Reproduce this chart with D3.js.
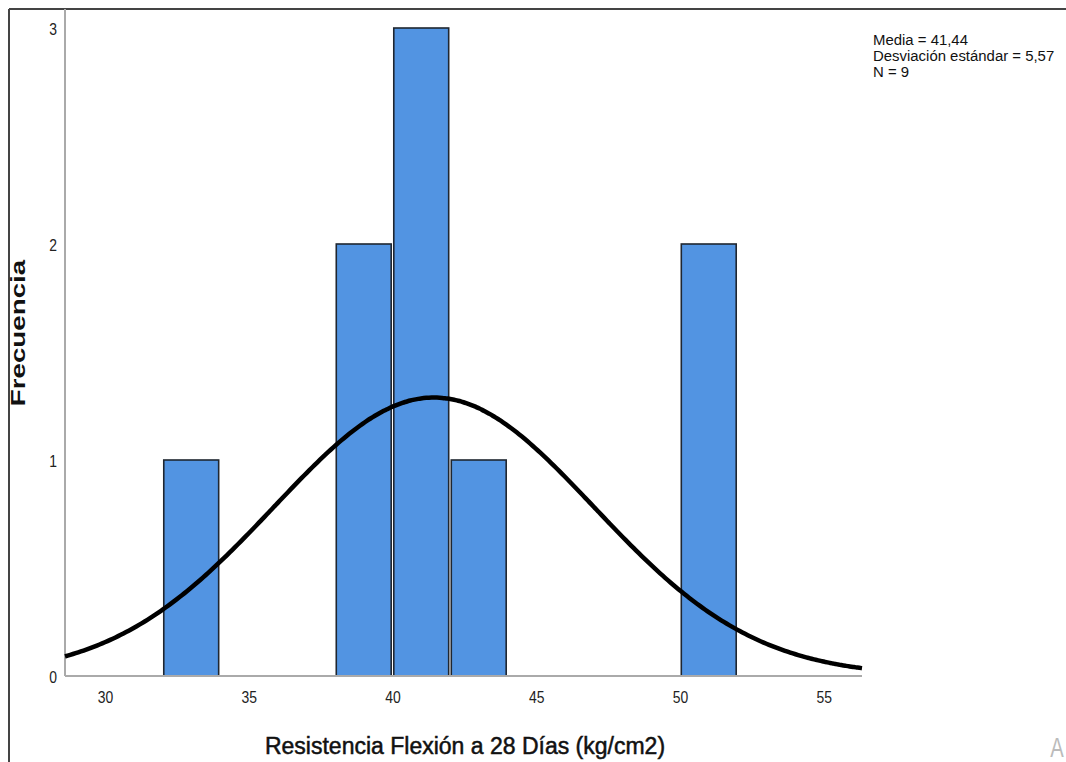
<!DOCTYPE html>
<html>
<head>
<meta charset="utf-8">
<script src="https://cdn.jsdelivr.net/npm/d3@7"></script>
<style>
  html, body { margin: 0; padding: 0; background: #fff; }
  svg { display: block; }
  text { font-family: "Liberation Sans", Arial, sans-serif; }
</style>
</head>
<body>
<svg id="chart" width="1066" height="762"></svg>
<script>
// Histogram bins: lower bound, upper bound, frequency
const binStart = [32, 38, 40, 42, 50];
const binEnd   = [34, 40, 42, 44, 52];
const freq     = [1, 2, 3, 1, 2];

const xTicks = [30, 35, 40, 45, 50, 55];
const yTicks = [0, 1, 2, 3];

const mean = 41.44;
const sd = 5.57;
const n = 9;
const binWidth = 2;

const statsLines = ["Media = 41,44", "Desviación estándar = 5,57", "N = 9"];

const svg = d3.select("#chart");
const plotLeft = 65, plotRight = 862, plotTop = 28, plotBottom = 676;
const barInset = 1.3;

const x = d3.scaleLinear().domain([28.61, 56.33]).range([plotLeft, plotRight]);
const y = d3.scaleLinear().domain([0, 3]).range([plotBottom, plotTop]);

// outer frame (top and left edges)
svg.append("line").attr("x1", 9).attr("x2", 1066).attr("y1", 9).attr("y2", 9)
  .attr("stroke", "#444").attr("stroke-width", 2);
svg.append("line").attr("x1", 9).attr("x2", 9).attr("y1", 9).attr("y2", 762)
  .attr("stroke", "#444").attr("stroke-width", 2);

// bars
svg.append("g").selectAll("rect")
  .data(freq)
  .join("rect")
  .attr("x", (d, i) => x(binStart[i]) + barInset)
  .attr("width", (d, i) => x(binEnd[i]) - x(binStart[i]) - 2 * barInset)
  .attr("y", d => y(d))
  .attr("height", d => y(0) - y(d))
  .attr("fill", "#5294e2")
  .attr("stroke", "#1f2630")
  .attr("stroke-width", 1.6);

// axis lines
svg.append("line").attr("x1", plotLeft).attr("x2", plotLeft).attr("y1", 9).attr("y2", plotBottom)
  .attr("stroke", "#aaa").attr("stroke-width", 2);
svg.append("line").attr("x1", plotLeft).attr("x2", plotRight).attr("y1", plotBottom).attr("y2", plotBottom)
  .attr("stroke", "#aaa").attr("stroke-width", 2);

// y axis labels
const yAxis = svg.append("g")
  .attr("transform", `translate(${plotLeft},0)`)
  .call(d3.axisLeft(y).tickValues(yTicks).tickSize(0).tickPadding(0).tickFormat(d3.format("d")));
yAxis.select(".domain").remove();
yAxis.selectAll(".tick").each(function () {
  const t = d3.select(this).attr("transform");
  const py = +t.match(/translate\([-\d.]+,([-\d.]+)/)[1];
  d3.select(this).attr("transform", `translate(-8,${py}) scale(0.82,1)`);
});
yAxis.selectAll("text")
  .attr("x", 0)
  .attr("dy", "0.36em")
  .attr("font-size", 17)
  .attr("font-family", "Liberation Sans, Arial, sans-serif")
  .attr("fill", "#222");

// x axis labels
const xAxis = svg.append("g")
  .attr("transform", `translate(0,${plotBottom})`)
  .call(d3.axisBottom(x).tickValues(xTicks).tickSize(0).tickPadding(0).tickFormat(d3.format("d")));
xAxis.select(".domain").remove();
xAxis.selectAll(".tick").each(function () {
  const t = d3.select(this).attr("transform");
  const px = +t.match(/translate\(([-\d.]+)/)[1];
  d3.select(this).attr("transform", `translate(${px},0) scale(0.82,1)`);
});
xAxis.selectAll("text")
  .attr("y", 27)
  .attr("dy", 0)
  .attr("font-size", 17)
  .attr("font-family", "Liberation Sans, Arial, sans-serif")
  .attr("fill", "#222");

// fitted normal curve
const curvePts = d3.range(0, 301).map(i => {
  const v = x.domain()[0] + (x.domain()[1] - x.domain()[0]) * i / 300;
  const dens = n * binWidth / (sd * Math.sqrt(2 * Math.PI)) * Math.exp(-0.5 * ((v - mean) / sd) ** 2);
  return [v, dens];
});
svg.append("path")
  .datum(curvePts)
  .attr("d", d3.line().x(d => x(d[0])).y(d => y(d[1])).curve(d3.curveBasis))
  .attr("fill", "none")
  .attr("stroke", "#000")
  .attr("stroke-width", 4.5);

// statistics box
svg.append("g").selectAll("text")
  .data(statsLines)
  .join("text")
  .attr("transform", (d, i) => `translate(873,${45 + i * 16}) scale(1.03,1)`)
  .attr("font-size", 14.5)
  .attr("fill", "#111")
  .text(d => d);

// axis titles
svg.append("text")
  .attr("transform", "translate(465,754)")
  .attr("text-anchor", "middle")
  .attr("font-size", 23)
  .attr("fill", "#111")
  .attr("stroke", "#111")
  .attr("stroke-width", 0.5)
  .text("Resistencia Flexión a 28 Días (kg/cm2)");

svg.append("text")
  .attr("transform", "translate(25,333) rotate(-90) scale(1.32,1)")
  .attr("text-anchor", "middle")
  .attr("font-size", 21)
  .attr("font-weight", "bold")
  .attr("fill", "#111")
  .text("Frecuencia");

// corner mark
svg.append("text")
  .attr("transform", "translate(1057,757) scale(0.75,1)")
  .attr("text-anchor", "middle")
  .attr("font-size", 27)
  .attr("fill", "#bbb")
  .text("A");
</script>
</body>
</html>
